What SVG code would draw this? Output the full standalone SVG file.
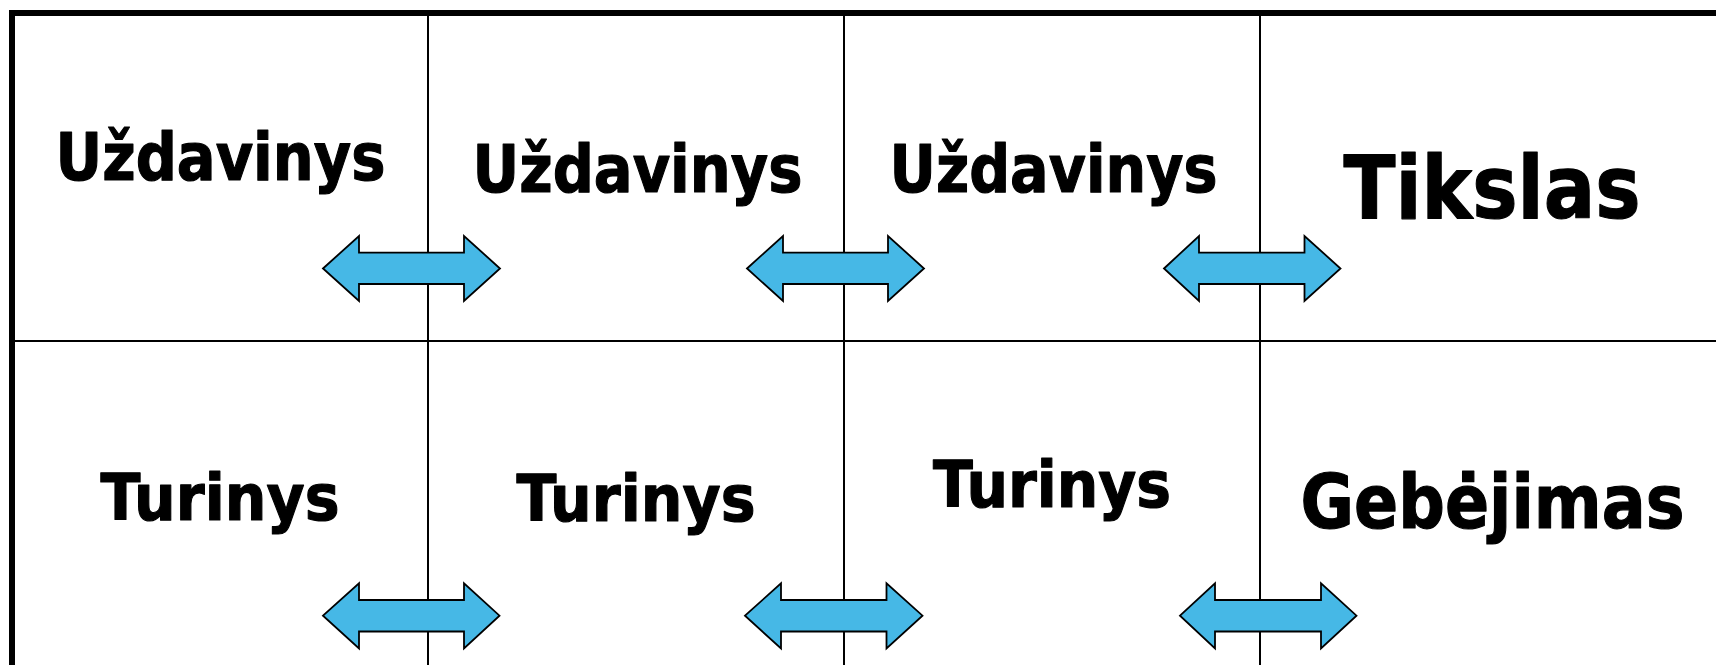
<svg xmlns="http://www.w3.org/2000/svg" width="1716" height="665" viewBox="0 0 1716 665">
<style>
.grid{stroke:#000;stroke-width:2;fill:none}
.border{stroke:#000;stroke-width:6;fill:none}
.lbl{font-family:"DejaVu Sans","Verdana",sans-serif;font-weight:bold;fill:#000;stroke:#000;stroke-width:1.2;stroke-linejoin:round}
.arr{fill:#46B8E6;stroke:#000;stroke-width:1.8;stroke-linejoin:miter}
</style>
<rect width="1716" height="665" fill="#fff"/>
<g id="grid">
<line class="grid" x1="428" y1="13" x2="428" y2="665"/>
<line class="grid" x1="844" y1="13" x2="844" y2="665"/>
<line class="grid" x1="1260" y1="13" x2="1260" y2="665"/>
<line class="grid" x1="12" y1="341" x2="1716" y2="341"/>
<line class="border" x1="9" y1="13" x2="1716" y2="13"/>
<line class="border" x1="12" y1="10" x2="12" y2="665"/>
</g>
<g id="cell-r1c1"><text class="lbl" x="55.5" y="180" font-size="66.5" textLength="330" lengthAdjust="spacingAndGlyphs">Uždavinys</text></g>
<g id="cell-r1c2"><text class="lbl" x="472.5" y="192" font-size="66.5" textLength="330" lengthAdjust="spacingAndGlyphs">Uždavinys</text></g>
<g id="cell-r1c3"><text class="lbl" x="889.5" y="191.7" font-size="66.5" textLength="328" lengthAdjust="spacingAndGlyphs">Uždavinys</text></g>
<g id="cell-r1c4"><text class="lbl" x="1343.5" y="218.3" font-size="87.5" textLength="297" lengthAdjust="spacingAndGlyphs">Tikslas</text></g>
<g id="cell-r2c1"><text class="lbl" x="100.5" y="519.5" font-size="64" textLength="239" lengthAdjust="spacingAndGlyphs">Turinys</text></g>
<g id="cell-r2c2"><text class="lbl" x="516.5" y="521" font-size="64" textLength="239" lengthAdjust="spacingAndGlyphs">Turinys</text></g>
<g id="cell-r2c3"><text class="lbl" x="933" y="506.7" font-size="64" textLength="238" lengthAdjust="spacingAndGlyphs">Turinys</text></g>
<g id="cell-r2c4"><text class="lbl" x="1300.5" y="527.7" font-size="74.5" textLength="384" lengthAdjust="spacingAndGlyphs">Gebėjimas</text></g>
<g id="connectors">
<polygon class="arr" points="323,268.5 359,236 359,252.7 464,252.7 464,236 500,268.5 464,301 464,284 359,284 359,301"/>
<polygon class="arr" points="747,268.5 783,236 783,252.7 888,252.7 888,236 924,268.5 888,301 888,284 783,284 783,301"/>
<polygon class="arr" points="1164,268.5 1199,236 1199,252.7 1304.5,252.7 1304.5,236 1340.5,268.5 1304.5,301 1304.5,284 1199,284 1199,301"/>
<polygon class="arr" points="323,615.7 359,583.3 359,600 464,600 464,583.3 499.5,615.7 464,648.5 464,631.5 359,631.5 359,648.5"/>
<polygon class="arr" points="745,615.7 781,583.3 781,600 886.5,600 886.5,583.3 922.5,615.7 886.5,648.5 886.5,631.5 781,631.5 781,648.5"/>
<polygon class="arr" points="1180,615.7 1215,583.3 1215,600 1321,600 1321,583.3 1356.5,615.7 1321,648.5 1321,631.5 1215,631.5 1215,648.5"/>
</g>
</svg>
